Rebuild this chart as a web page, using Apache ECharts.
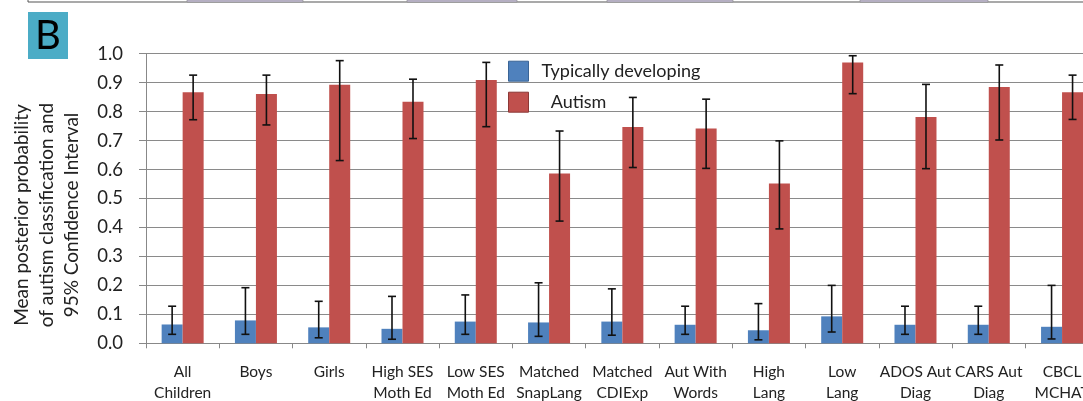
<!DOCTYPE html>
<html><head><meta charset="utf-8">
<script src="https://cdn.jsdelivr.net/npm/echarts@6/dist/echarts.min.js"></script>
<style>html,body{margin:0;padding:0;background:#fff;overflow:hidden;width:1083px;height:401px;}#c{width:1100px;height:401px;}</style>
</head><body><div id="c"></div>
<script>
const categories = ['All\nChildren','Boys','Girls','High SES\nMoth Ed','Low SES\nMoth Ed','Matched\nSnapLang','Matched\nCDIExp','Aut With\nWords','High\nLang','Low\nLang','ADOS Aut\nDiag','CARS Aut\nDiag','CBCL\nMCHAT'];
const tdMean = [0.065,0.079,0.055,0.050,0.075,0.072,0.075,0.064,0.045,0.093,0.064,0.064,0.057];
const tdLow  = [0.031,0.031,0.019,0.014,0.031,0.024,0.028,0.031,0.012,0.039,0.031,0.031,0.015];
const tdHigh = [0.128,0.192,0.145,0.162,0.167,0.209,0.188,0.128,0.137,0.200,0.128,0.128,0.200];
const autMean = [0.867,0.861,0.893,0.834,0.909,0.586,0.747,0.742,0.552,0.970,0.781,0.885,0.867];
const autLow  = [0.772,0.754,0.631,0.707,0.748,0.422,0.607,0.604,0.395,0.862,0.603,0.702,0.773];
const autHigh = [0.926,0.926,0.976,0.912,0.970,0.733,0.849,0.843,0.699,0.993,0.894,0.961,0.926];
const yTicks = [0,0.1,0.2,0.3,0.4,0.5,0.6,0.7,0.8,0.9,1.0];
const seriesNames = ['Typically developing','Autism'];

const FONT = 'Lato';
const BAR_W = 21;
const chart = echarts.init(document.getElementById('c'));

function errSeries(low, high, offset) {
  return {
    type: 'custom',
    silent: true,
    z: 10,
    data: low.map((l, i) => [i, l, high[i]]),
    renderItem: function (params, api) {
      const i = api.value(0);
      const lo = api.coord([i, api.value(1)]);
      const hi = api.coord([i, api.value(2)]);
      const x = lo[0] + offset;
      const cap = 4;
      const st = {stroke: '#111', lineWidth: 1.6};
      return {type: 'group', children: [
        {type: 'line', shape: {x1: x, y1: lo[1], x2: x, y2: hi[1]}, style: st},
        {type: 'line', shape: {x1: x - cap, y1: lo[1], x2: x + cap, y2: lo[1]}, style: st},
        {type: 'line', shape: {x1: x - cap, y1: hi[1], x2: x + cap, y2: hi[1]}, style: st}
      ]};
    }
  };
}

const cellXs = [[187,303],[407,517],[607,733],[860,988]];
const graphics = [
  {type: 'line', shape: {x1: 28, y1: 2, x2: 1100, y2: 2}, style: {stroke: '#555', lineWidth: 1.2}},
  {type: 'line', shape: {x1: 28, y1: 0, x2: 28, y2: 2}, style: {stroke: '#555', lineWidth: 1}},
  {type: 'rect', shape: {x: 28, y: 12, width: 40, height: 47}, style: {fill: '#4bacc6'}},
  {type: 'text', x: 48, y: 36, style: {text: 'B', fill: '#000', font: '40px ' + FONT, textAlign: 'center', textVerticalAlign: 'middle'}},
  {type: 'text', x: 47, y: 215, rotation: Math.PI / 2,
   style: {text: 'Mean posterior probability\nof autism classification and\n95% Confidence Interval', fill: '#222', font: '19px ' + FONT, lineHeight: 25, textAlign: 'center', textVerticalAlign: 'middle'}}
];
cellXs.forEach(c => {
  graphics.push({type: 'rect', shape: {x: c[0], y: 0, width: c[1] - c[0], height: 2}, style: {fill: '#c9c0dc', stroke: '#888', lineWidth: 0.6}});
});

chart.setOption({
  animation: false,
  textStyle: {fontFamily: FONT},
  grid: {left: 146, right: 1.3, top: 53.7, bottom: 57.7, containLabel: false, outerBoundsMode: 'none'},
  legend: {
    orient: 'vertical', left: 508, top: 60.7, padding: 0, itemWidth: 20, itemHeight: 20, itemGap: 10,
    icon: 'rect',
    data: [
      {name: seriesNames[0], itemStyle: {borderColor: '#3a6496', borderWidth: 1}},
      {name: seriesNames[1], itemStyle: {borderColor: '#8c3836', borderWidth: 1}}
    ],
    formatter: n => n === 'Autism' ? '  Autism' : n,
    textStyle: {fontFamily: FONT, fontSize: 18, color: '#222', padding: [0, 0, 0, 8]}
  },
  xAxis: {
    type: 'category', data: categories,
    axisLine: {lineStyle: {color: '#888', width: 1}},
    axisTick: {show: true, length: 5, lineStyle: {color: '#888'}},
    axisLabel: {interval: 0, margin: 18, fontSize: 15.5, lineHeight: 21, color: '#222', fontFamily: FONT}
  },
  yAxis: {
    type: 'value', min: 0, max: 1, interval: 0.1,
    axisLine: {show: true, lineStyle: {color: '#888'}},
    axisTick: {show: true, length: 7, lineStyle: {color: '#888'}},
    splitLine: {lineStyle: {color: '#8a8a8a', width: 1.2}},
    axisLabel: {margin: 23, fontSize: 18.5, color: '#222', fontFamily: FONT,
      formatter: v => yTicks.some(t => Math.abs(t - v) < 1e-9) ? v.toFixed(1) : ''}
  },
  graphic: graphics,
  series: [
    {name: seriesNames[0], type: 'bar', data: tdMean, barWidth: BAR_W, barGap: '0%', itemStyle: {color: '#4f81bd'}},
    {name: seriesNames[1], type: 'bar', data: autMean, barWidth: BAR_W, barGap: '0%', itemStyle: {color: '#c0504d'}},
    errSeries(tdLow, tdHigh, -BAR_W / 2),
    errSeries(autLow, autHigh, BAR_W / 2)
  ]
});
</script></body></html>
